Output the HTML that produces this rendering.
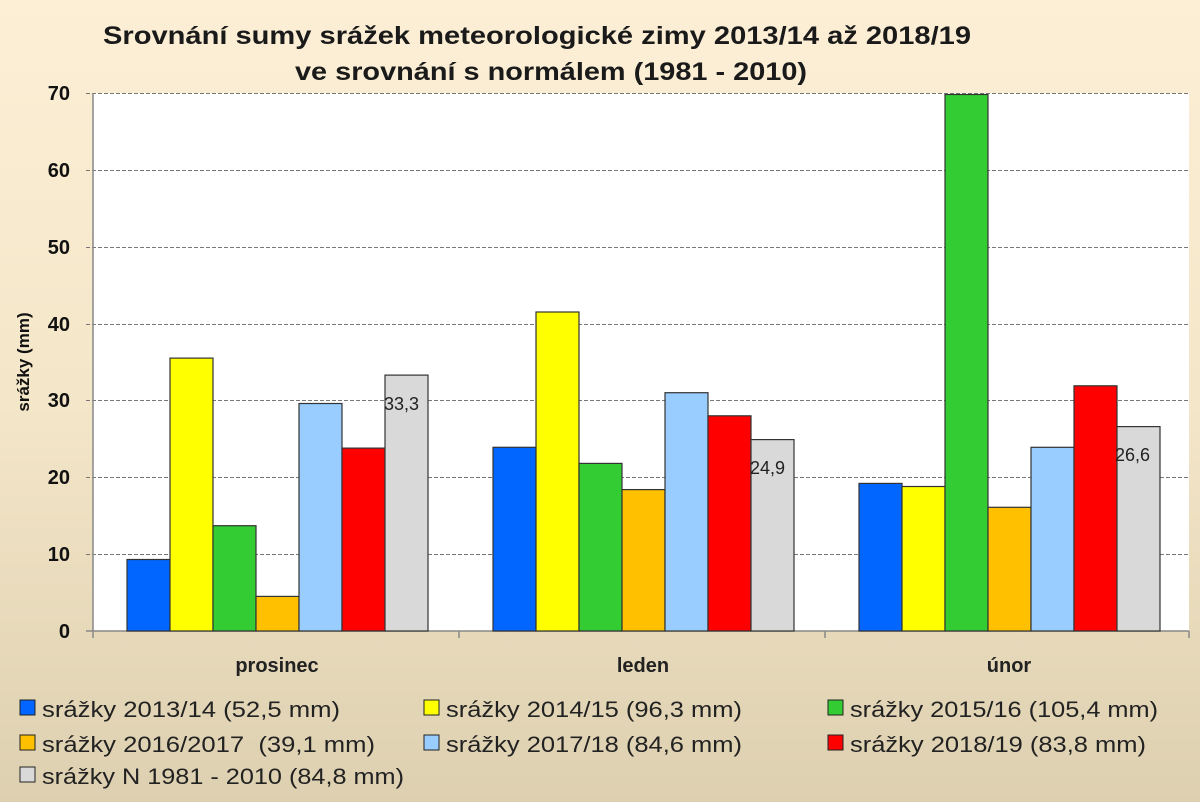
<!DOCTYPE html>
<html><head><meta charset="utf-8"><style>
html,body{margin:0;padding:0;width:1200px;height:802px;overflow:hidden}
</style></head><body>
<svg width="1200" height="802" viewBox="0 0 1200 802" xmlns="http://www.w3.org/2000/svg" font-family="Liberation Sans, sans-serif">
<defs><linearGradient id="bg" x1="0" y1="0" x2="0" y2="1">
<stop offset="0" stop-color="#fcefd6"/><stop offset="0.5" stop-color="#f4e6c8"/><stop offset="1" stop-color="#ddd0b0"/></linearGradient></defs>
<rect width="1200" height="802" fill="url(#bg)"/>
<text x="537" y="44" font-size="25" font-weight="bold" text-anchor="middle" textLength="868" lengthAdjust="spacingAndGlyphs" fill="#1a1a1a">Srovnání sumy srážek meteorologické zimy 2013/14 až 2018/19</text>
<text x="551" y="80" font-size="25" font-weight="bold" text-anchor="middle" textLength="512" lengthAdjust="spacingAndGlyphs" fill="#1a1a1a">ve srovnání s normálem (1981 - 2010)</text>
<rect x="93" y="93" width="1096" height="538" fill="#fff"/>
<g stroke="#777" stroke-width="1" stroke-dasharray="4,2">
<line x1="86" x2="1189" y1="93.5" y2="93.5"/><line x1="86" x2="1189" y1="170.5" y2="170.5"/>
<line x1="86" x2="1189" y1="247.5" y2="247.5"/><line x1="86" x2="1189" y1="324.5" y2="324.5"/>
<line x1="86" x2="1189" y1="400.5" y2="400.5"/><line x1="86" x2="1189" y1="477.5" y2="477.5"/>
<line x1="86" x2="1189" y1="554.5" y2="554.5"/></g>
<g stroke="#888" stroke-width="1.5"><line x1="93" y1="93" x2="93" y2="638"/><line x1="86" y1="631" x2="1189" y2="631"/>
<line x1="459" y1="631" x2="459" y2="638"/><line x1="825" y1="631" x2="825" y2="638"/><line x1="1189" y1="631" x2="1189" y2="638"/></g>
<g font-size="20" font-weight="bold" text-anchor="end" fill="#111">
<text x="70" y="100">70</text><text x="70" y="177">60</text><text x="70" y="254">50</text><text x="70" y="331">40</text>
<text x="70" y="407">30</text><text x="70" y="484">20</text><text x="70" y="561">10</text><text x="70" y="638">0</text></g>
<text transform="translate(29,362) rotate(-90)" font-size="17" font-weight="bold" text-anchor="middle" fill="#111">srážky (mm)</text>
<g stroke="#333" stroke-width="1.2">
<rect x="127" y="559.5" width="43" height="71.5" fill="#0066ff"/>
<rect x="170" y="358.1" width="43" height="272.9" fill="#ffff00"/>
<rect x="213" y="525.7" width="43" height="105.3" fill="#33cc33"/>
<rect x="256" y="596.4" width="43" height="34.6" fill="#ffc000"/>
<rect x="299" y="403.5" width="43" height="227.5" fill="#99ccff"/>
<rect x="342" y="448.1" width="43" height="182.9" fill="#ff0000"/>
<rect x="385" y="375.1" width="43" height="255.9" fill="#d9d9d9"/>
<rect x="493" y="447.3" width="43" height="183.7" fill="#0066ff"/>
<rect x="536" y="312" width="43" height="319" fill="#ffff00"/>
<rect x="579" y="463.4" width="43" height="167.6" fill="#33cc33"/>
<rect x="622" y="489.6" width="43" height="141.4" fill="#ffc000"/>
<rect x="665" y="392.7" width="43" height="238.3" fill="#99ccff"/>
<rect x="708" y="415.8" width="43" height="215.2" fill="#ff0000"/>
<rect x="751" y="439.6" width="43" height="191.4" fill="#d9d9d9"/>
<rect x="859" y="483.4" width="43" height="147.6" fill="#0066ff"/>
<rect x="902" y="486.5" width="43" height="144.5" fill="#ffff00"/>
<rect x="945" y="94.5" width="43" height="536.5" fill="#33cc33"/>
<rect x="988" y="507.3" width="43" height="123.7" fill="#ffc000"/>
<rect x="1031" y="447.3" width="43" height="183.7" fill="#99ccff"/>
<rect x="1074" y="385.8" width="43" height="245.2" fill="#ff0000"/>
<rect x="1117" y="426.6" width="43" height="204.4" fill="#d9d9d9"/>
</g>
<g font-size="18" fill="#222">
<text x="384" y="410">33,3</text><text x="750" y="474">24,9</text><text x="1115" y="461">26,6</text></g>
<g font-size="20" font-weight="bold" text-anchor="middle" fill="#222">
<text x="277" y="672">prosinec</text><text x="643" y="672">leden</text><text x="1009" y="672">únor</text></g>
<g font-size="22" fill="#222">
<rect x="20" y="700" width="15" height="15" fill="#0066ff" stroke="#222"/><text x="42" y="717" textLength="298" lengthAdjust="spacingAndGlyphs">srážky 2013/14 (52,5 mm)</text>
<rect x="424" y="700" width="15" height="15" fill="#ffff00" stroke="#222"/><text x="446" y="717" textLength="296" lengthAdjust="spacingAndGlyphs">srážky 2014/15 (96,3 mm)</text>
<rect x="828" y="700" width="15" height="15" fill="#33cc33" stroke="#222"/><text x="850" y="717" textLength="308" lengthAdjust="spacingAndGlyphs">srážky 2015/16 (105,4 mm)</text>
<rect x="20" y="735" width="15" height="15" fill="#ffc000" stroke="#222"/><text x="42" y="752" textLength="333" lengthAdjust="spacingAndGlyphs" xml:space="preserve">srážky 2016/2017  (39,1 mm)</text>
<rect x="424" y="735" width="15" height="15" fill="#99ccff" stroke="#222"/><text x="446" y="752" textLength="296" lengthAdjust="spacingAndGlyphs">srážky 2017/18 (84,6 mm)</text>
<rect x="828" y="735" width="15" height="15" fill="#ff0000" stroke="#222"/><text x="850" y="752" textLength="296" lengthAdjust="spacingAndGlyphs">srážky 2018/19 (83,8 mm)</text>
<rect x="20" y="767" width="15" height="15" fill="#d9d9d9" stroke="#222"/><text x="42" y="784" textLength="362" lengthAdjust="spacingAndGlyphs">srážky N 1981 - 2010 (84,8 mm)</text>
</g>
</svg>
</body></html>
